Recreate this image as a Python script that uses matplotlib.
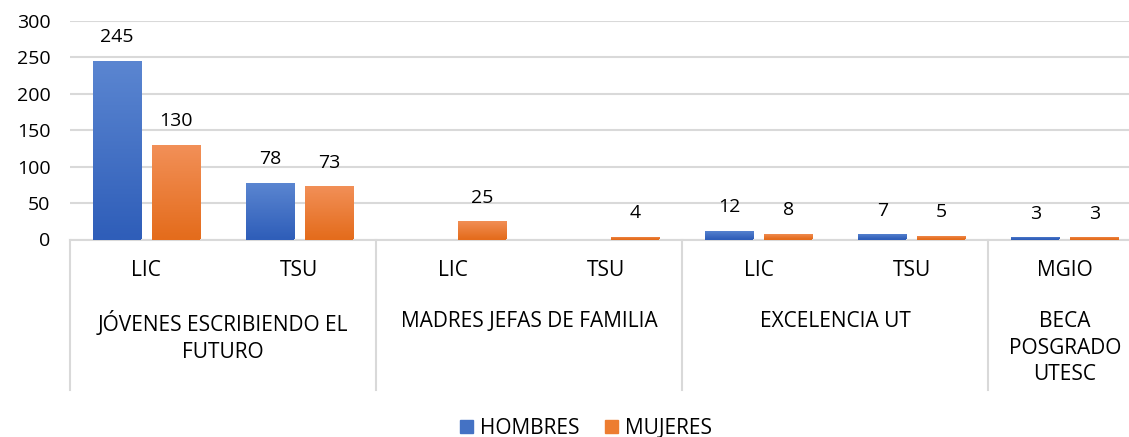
# Grouped scholarship counts by program and gender, Excel-style multi-level axis.
import numpy as np
import matplotlib.pyplot as plt
from matplotlib.patches import Patch

plt.rcParams["font.family"] = ["Open Sans", "DejaVu Sans"]

levels = ["LIC", "TSU", "LIC", "TSU", "LIC", "TSU", "MGIO"]
groups = ["JÓVENES ESCRIBIENDO EL\nFUTURO", "MADRES JEFAS DE FAMILIA",
          "EXCELENCIA UT", "BECA\nPOSGRADO\nUTESC"]
group_span = [(0, 1), (2, 3), (4, 5), (6, 6)]
hombres = [245, 78, np.nan, np.nan, 12, 7, 3]
mujeres = [130, 73, 25, 4, 8, 5, 3]

blue_grad = ("#5B86D1", "#2F5EB9")
orange_grad = ("#F29058", "#E46C1C")
grid_c = "#D9D9D9"

fig = plt.figure(figsize=(11.29, 4.37), dpi=100)
ax = fig.add_axes([69.8 / 1129, (437 - 239.5) / 437, 1071.7 / 1129, 218.5 / 437])

x = np.arange(len(levels))
w, off = 0.314, 0.193


def grad_bars(xs, vals, cols):
    bars = ax.bar(xs, np.nan_to_num(vals), w, color=cols[1], zorder=3)
    c0 = np.array(plt.matplotlib.colors.to_rgb(cols[0]))
    c1 = np.array(plt.matplotlib.colors.to_rgb(cols[1]))
    t = np.linspace(0, 1, 64)[:, None]
    img = (c0 * (1 - t) + c1 * t)[:, None, :]
    for b, v in zip(bars, vals):
        if np.isnan(v) or v == 0:
            continue
        im = ax.imshow(img, extent=[b.get_x(), b.get_x() + w, 0, v],
                       aspect="auto", zorder=4)
        im.set_clip_path(b)
        # faint shadow under the bar
        ax.bar(b.get_x() + w / 2, -3, w * 1.05, color="#BFBFBF", alpha=0.5,
               zorder=2, linewidth=0)
        ax.annotate(f"{int(v)}", (b.get_x() + w / 2, v), xytext=(0, 17),
                    textcoords="offset points", ha="center", va="center",
                    fontsize=14, color="#000000", zorder=5)
    return bars


grad_bars(x - off, hombres, blue_grad)
grad_bars(x + off, mujeres, orange_grad)

ax.set_xlim(-0.5, 6.5)
ax.set_ylim(0, 300)
ax.set_yticks(range(0, 301, 50))
ax.tick_params(axis="y", length=0, labelsize=14, pad=14)
ax.tick_params(axis="x", length=0, labelbottom=False)
ax.grid(axis="y", color=grid_c, linewidth=1.5, zorder=0)
for s in ax.spines.values():
    s.set_visible(False)

trans = ax.get_xaxis_transform()
px = 1 / 218.5
for i, lab in enumerate(levels):
    ax.text(i, -(270 - 239.5) * px, lab, transform=trans, ha="center",
            va="center", fontsize=15)
for (a, b), g in zip(group_span, groups):
    ax.text((a + b) / 2, -(311 - 239.5) * px, g, transform=trans, ha="center",
            va="top", fontsize=15, linespacing=1.35)
for xb in [-0.5, 1.5, 3.5, 5.5]:
    ax.plot([xb, xb], [0, -(390 - 239.5) * px], transform=trans, color=grid_c,
            linewidth=1.5, clip_on=False)
ax.plot([-0.5, 6.5], [0, 0], transform=trans, color=grid_c, linewidth=1.5,
        clip_on=False)

handles = [Patch(color="#4472C4", label="HOMBRES"),
           Patch(color="#ED7D31", label="MUJERES")]
fig.legend(handles=handles, loc="center", bbox_to_anchor=(586 / 1129, 1 - 428.5 / 437),
           ncol=2, frameon=False, fontsize=15, handlelength=0.62, handleheight=0.62,
           handletextpad=0.34, columnspacing=1.2, borderpad=0)

fig.savefig("out.png", dpi=100)
